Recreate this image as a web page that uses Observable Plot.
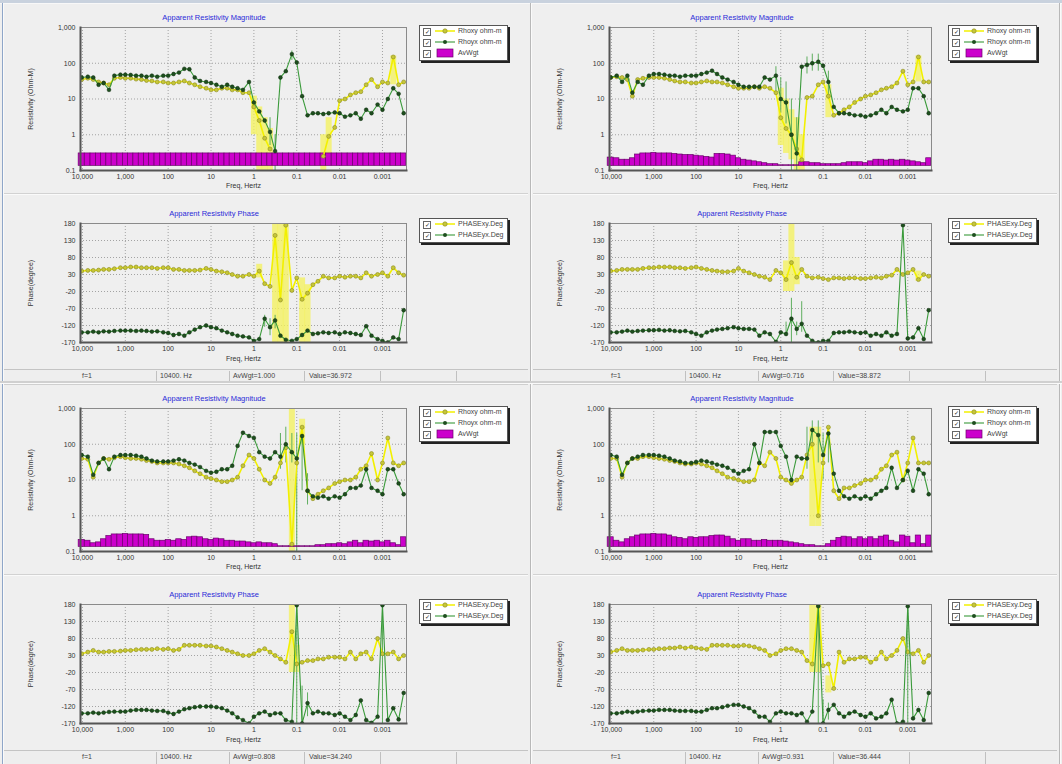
<!DOCTYPE html>
<html><head><meta charset="utf-8">
<script src="https://cdn.jsdelivr.net/npm/d3@7"></script>
<script src="https://cdn.jsdelivr.net/npm/@observablehq/plot@0.6"></script>
<style>
body{margin:0;background:#efefef;font-family:"Liberation Sans",Arial,sans-serif;}
#root{position:relative;width:1062px;height:764px;overflow:hidden;background:#efefef;}
.box{position:absolute;}
.title{position:absolute;color:#2a2ad8;font-size:7.5px;transform:translateX(-50%);white-space:nowrap;}
.legend{position:absolute;background:#fff;border:1px solid #555;box-shadow:2px 2px 0 #222;font-size:7px;color:#444;}
.lrow{position:relative;height:11px;white-space:nowrap;}
.cb{position:absolute;left:3px;top:2px;width:6px;height:6px;border:1px solid #666;background:#fff;font-size:6px;line-height:6px;text-align:center;color:#222;}
.lsym{position:absolute;left:14px;top:0px;}
.ltxt{position:absolute;left:38px;top:1px;}
.status{position:absolute;height:14px;background:#eeeeee;border-top:1px solid #c4c4c4;border-bottom:1px solid #cfcfcf;font-size:7px;color:#444;}
.scell{position:absolute;top:2px;white-space:nowrap;}
.ssep{position:absolute;top:1px;width:1px;height:12px;background:#c0c0c0;}
.hsep{position:absolute;height:1px;background:#d2d2d2;border-bottom:1px solid #fafafa;}
.vsep{position:absolute;width:1px;background:#b8b8b8;border-right:1px solid #fafafa;}
</style>
</head><body><div id="root"></div>
<script>
// ---------- data ----------
const freqs = [10400,7500,5600,4200,3200,2400,1800,1300,1000,750,560,420,320,240,180,130,100,75,56,42,32,24,18,13,10,7.5,5.6,4.2,3.2,2.4,1.8,1.3,1,0.75,0.56,0.42,0.32,0.24,0.18,0.13,0.1,0.075,0.056,0.042,0.032,0.024,0.018,0.013,0.01,0.0075,0.0056,0.0042,0.0032,0.0024,0.0018,0.0013,0.001,0.00075,0.00056,0.00042,0.00032];
const xTicks = [10000,1000,100,10,1,0.1,0.01,0.001];
const xTickLabels = ["10,000","1,000","100","10","1","0.1","0.01","0.001"];
const magTicks = [1000,100,10,1,0.1];
const magTickLabels = ["1,000","100","10","1","0.1"];
const phTicks = [180,130,80,30,-20,-70,-120,-170];
const phTickLabels = ["180","130","80","30","-20","-70","-120","-170"];

// panel A (top-left)
const rhoxyA = [35,38,35,30,28,25,38,40, 38,38,36,35,33,32,30,30, 28,28,30,32,28,25,22,20, 18,18,20,20,18,18,15,15, 6,2.5,0.8,0.4,null,null,null,null, null,null,null,null,null,0.25,0.9,1.6, 9,10,13,15,16,25,35,22, 30,28,150,25,30];
const rhoyxA = [40,42,40,25,28,18,45,48, 48,47,45,45,42,45,42,45, 45,50,55,70,68,40,32,30, 28,25,22,25,22,20,18,30, 8,4.5,2.5,1.2,0.35,40,60,180, 105,12,3.5,4,4,3.8,4,4.2, 4,3.2,3.5,4,2.8,5,4,7, 5,10,20,14,4];
const avwgtA = [0.3,0.3,0.3,0.3,0.3,0.3,0.3,0.3, 0.3,0.3,0.3,0.3,0.3,0.3,0.3,0.3, 0.3,0.3,0.3,0.3,0.3,0.3,0.3,0.3, 0.3,0.3,0.3,0.3,0.3,0.3,0.3,0.3, 0.3,0.3,0.3,0.3,0.3,0.3,0.3,0.3, 0.3,0.3,0.3,0.3,0.3,0.3,0.3,0.3, 0.3,0.3,0.3,0.3,0.3,0.3,0.3,0.3, 0.3,0.3,0.3,0.3,0.3];
const phxyA = [40,42,42,43,45,45,47,50, 50,52,52,50,50,50,48,50, 50,45,45,42,42,42,43,48, 45,40,38,35,30,25,25,30, 25,40,3,-5,145,-45,175,-17, 20,-43,-25,0,10,25,20,20, 25,22,25,25,20,35,25,30, 35,25,50,35,28];
const phyxA = [-140,-140,-138,-140,-137,-138,-136,-135, -135,-135,-136,-135,-136,-138,-137,-140, -142,-148,-145,-150,-140,-132,-125,-120, -125,-128,-135,-140,-145,-150,-152,-155, -165,-160,-100,-125,-105,-150,-162,-165, -160,-148,-135,-145,-143,-140,-142,-140, -145,-140,-142,-145,-148,-122,-150,-160, -165,-170,-155,-160,-75];

// panel B (top-right)
const rhoxyB = [40,42,40,35,12,35,38,40, 40,40,38,35,32,30,30,28, 28,30,32,30,30,28,25,22, 20,20,20,22,20,22,20,15, 3,1.5,1,0.4,0.2,11,12,25, 30,12,3.5,4,5,6,8,10, 12,13,15,18,20,22,28,60, 25,30,150,30,30];
const rhoyxB = [40,45,30,45,15,30,25,45, 50,50,48,45,45,42,45,45, 45,50,55,62,50,40,35,30, 25,22,22,22,22,40,35,45, 10,8,1,0.3,80,90,100,110, 85,30,6,4,4,3.8,3.5,3.5, 3.2,3.5,4,5,4,6,5,4.5, 5,20,20,12,4];
const avwgtB = [0.23,0.22,0.2,0.2,0.22,0.28,0.3,0.3, 0.31,0.3,0.3,0.3,0.29,0.28,0.27,0.27, 0.26,0.25,0.24,0.23,0.29,0.29,0.28,0.26, 0.22,0.2,0.19,0.18,0.17,0.16,0.15,0.15, 0.14,0.14,0.14,0.14,0.17,0.17,0.16,0.16, 0.15,0.15,0.15,0.15,0.16,0.17,0.17,0.17, 0.16,0.18,0.2,0.2,0.19,0.2,0.19,0.2, 0.19,0.18,0.17,0.16,0.22];
const phxyB = [40,42,45,45,45,45,48,50, 50,52,52,52,50,50,48,50, 52,48,45,42,40,38,38,40, 48,40,35,30,25,22,15,42, 35,15,65,22,45,25,20,22, 18,15,20,20,18,20,20,18, 18,20,22,20,25,28,45,30, 35,45,15,30,25];
const phyxB = [-140,-140,-138,-135,-138,-136,-135,-134, -134,-133,-135,-134,-136,-137,-136,-140, -145,-150,-140,-135,-132,-130,-128,-125, -128,-130,-130,-132,-150,-140,-145,-168, -140,-145,-100,-130,-115,-150,-165,-170, -165,-165,-142,-140,-140,-138,-140,-142, -140,-150,-145,-150,-140,-150,-145,175, -158,-155,-128,-160,-75];

// panel C (bottom-left)
const rhoxyC = [40,38,12,30,40,38,42,45, 42,40,40,38,35,33,30,30, 30,30,28,25,22,18,15,12, 11,10,9,9,10,12,25,50, 40,20,10,8,12,30,80,0.16, 30,300,5,3,4,5,6,8, 9,10,10,12,20,25,55,10, 30,150,30,25,30];
const rhoyxC = [50,45,14,30,40,20,45,50, 50,50,48,45,40,35,33,33, 33,35,38,35,30,27,23,18, 16,17,20,20,25,90,210,170, 150,60,45,40,60,45,100,60, 40,170,5,3.5,3.2,3.5,3,3.5, 3.2,4,6,6,7,20,6,5, 4,20,20,8,4];
const avwgtC = [0.21,0.2,0.17,0.18,0.22,0.27,0.3,0.3, 0.31,0.3,0.3,0.3,0.29,0.22,0.2,0.2, 0.21,0.2,0.22,0.21,0.25,0.26,0.25,0.22, 0.21,0.23,0.22,0.2,0.2,0.19,0.19,0.18, 0.17,0.18,0.17,0.17,0.16,0.14,0.14,0.14, 0.14,0.14,0.14,0.14,0.15,0.15,0.16,0.16, 0.17,0.16,0.18,0.2,0.17,0.2,0.19,0.2, 0.18,0.2,0.17,0.15,0.25];
const phxyC = [35,40,45,40,40,42,42,43, 45,45,47,48,48,48,50,48, 50,45,48,60,60,60,60,58, 58,55,50,45,40,35,30,30, 35,45,50,40,30,20,10,100, 5,10,15,15,20,20,25,25, 25,20,40,20,35,40,20,80, 35,35,40,20,30];
const phyxC = [-140,-140,-138,-140,-138,-136,-135,-135, -135,-132,-130,-130,-130,-132,-133,-133, -138,-142,-135,-128,-125,-122,-120,-120, -120,-122,-125,-132,-140,-152,-160,-170, -150,-140,-135,-145,-140,-140,-160,-165, 178,-170,-110,-140,-135,-140,-140,-145, -140,-150,-160,-145,-102,-160,-168,-150, 178,-160,-125,-158,-80];

// panel D (bottom-right)
const rhoxyD = [40,40,12,30,40,40,45,45, 42,40,38,35,33,30,28,28, 30,28,25,22,18,15,12,11, 10,9,9,10,30,25,60,40, 12,10,8,10,12,50,100,1, 30,300,5,3,6,6,7,8, 10,10,12,20,25,50,60,10, 30,150,30,30,30];
const rhoyxD = [50,45,14,30,40,45,50,50, 50,48,45,40,35,33,30,30, 32,35,33,30,27,25,22,18, 15,18,20,100,30,220,220,220, 90,45,10,45,40,40,250,180, 50,200,15,5,3.5,3,3.5,3, 3.5,3,4,5,6,22,6,10, 18,5,20,15,4];
const avwgtD = [0.25,0.2,0.18,0.22,0.25,0.28,0.3,0.3, 0.31,0.3,0.3,0.28,0.25,0.24,0.22,0.25, 0.24,0.25,0.25,0.27,0.28,0.28,0.26,0.22, 0.2,0.22,0.22,0.2,0.2,0.21,0.2,0.2, 0.2,0.19,0.18,0.17,0.16,0.15,0.15,0.14, 0.14,0.16,0.2,0.24,0.26,0.25,0.22,0.25, 0.22,0.25,0.22,0.26,0.28,0.2,0.18,0.28, 0.26,0.17,0.28,0.16,0.28];
const phxyD = [40,45,50,45,45,45,46,48, 48,50,50,52,52,55,52,55, 52,50,48,60,60,60,60,58, 58,60,58,55,50,45,30,35, 45,50,50,45,40,15,5,180, 0,5,-67,40,10,20,20,25, 25,10,20,40,20,30,45,80, 40,35,45,10,30];
const phyxD = [-140,-140,-138,-135,-137,-135,-133,-132, -132,-130,-130,-130,-132,-133,-133,-133, -135,-135,-130,-125,-125,-122,-118,-115, -115,-120,-125,-135,-150,-150,-165,-140, -135,-140,-140,-145,-140,-165,-135,175, -170,-130,-115,-140,-150,-140,-135,-145, -150,-140,-155,-150,-140,-100,-170,-165, 175,-155,-130,-160,-80];

// error bars: [frequency index, low, high]
const errMagXyA = [[32,1,12],[33,0.1,6],[34,0.1,3],[35,0.1,1.5],[45,0.1,1],[46,0.2,3],[58,25,160]];
const errMagYxA = [[35,0.5,3],[36,0.1,1],[39,120,220]];
const errPhXyA = [[33,20,60],[36,-170,180],[37,-170,180],[38,-170,180],[41,-170,20],[42,-170,0]];
const errPhYxA = [[34,-125,-90],[35,-150,-100],[36,-130,-90]];
const errMagXyB = [[32,0.5,20],[33,0.3,10],[34,0.2,5],[35,0.1,3],[36,0.1,1],[41,3,25],[58,30,160]];
const errMagYxB = [[31,15,80],[32,4,40],[33,2,30],[34,0.1,10],[35,0.1,3],[37,50,150],[38,60,180],[39,60,180],[41,10,60]];
const errPhXyB = [[33,-20,70],[34,-20,180],[35,0,80],[58,10,40]];
const errPhYxB = [[33,-150,-110],[34,-170,-40],[35,-150,-110],[36,-140,-50]];
const errMagXyC = [[39,0.1,1000],[41,100,500]];
const errMagYxC = [[37,20,200],[38,30,300],[39,30,200],[40,0.1,200],[41,5,300],[42,2,15]];
const errPhXyC = [[39,-20,180],[40,-20,60]];
const errPhYxC = [[40,-170,180],[41,-170,-60],[42,-150,-80],[56,-170,180]];
const errMagXyD = [[38,0.5,300],[39,0.5,300]];
const errMagYxD = [[37,20,300],[38,80,450],[39,30,450],[40,10,200],[41,30,300]];
const errPhXyD = [[38,-20,180],[39,-20,180],[41,-80,-30]];
const errPhYxD = [[39,-170,180],[40,-170,-100],[41,-160,-110],[56,-170,180]];

const magTitle = "Apparent Resistivity Magnitude";
const phTitle = "Apparent Resistivity Phase";
const magLegend = ["Rhoxy ohm-m","Rhoyx ohm-m","AvWgt"];
const phLegend = ["PHASExy.Deg","PHASEyx.Deg"];
const statusF = ["f=1","f=1","f=1","f=1"];
const statusHz = ["10400. Hz","10400. Hz","10400. Hz","10400. Hz"];
const statusW = ["AvWgt=1.000","AvWgt=0.716","AvWgt=0.808","AvWgt=0.931"];
const statusV = ["Value=36.972","Value=38.872","Value=34.240","Value=36.444"];

// ---------- drawing ----------
const root = document.getElementById("root");
const C = {yLine:"#f2f000", yDot:"#c6c63a", yDotS:"#8a8a1c", yErr:"#f4f25a", gLine:"#3a9a3a", gDot:"#1e4e1e", gDotS:"#0d2b0d", gErr:"#5fae5f", bar:"#cc00cc", barS:"#6a006a"};
const barBase = 0.135;
const xDomain = [11100, 0.000275];
const xLab = new Map(xTicks.map((d,i)=>[d,xTickLabels[i]]));
const mLab = new Map(magTicks.map((d,i)=>[d,magTickLabels[i]]));
const pLab = new Map(phTicks.map((d,i)=>[d,phTickLabels[i]]));
function edge(i){
  if (i===0) return freqs[0]*Math.sqrt(freqs[0]/freqs[1]);
  if (i===freqs.length) { const n=freqs.length; return freqs[n-1]/Math.sqrt(freqs[n-2]/freqs[n-1]); }
  return Math.sqrt(freqs[i-1]*freqs[i]);
}
const style = {background:"transparent", fontFamily:"'Liberation Sans',Arial,sans-serif", fontSize:"7px", color:"#333", overflow:"visible"};
const grid = {stroke:"#9a9a9a", strokeOpacity:0.9, strokeDasharray:"1,2"};
const errRows = e => e.map(([i,lo,hi])=>({f:freqs[i], lo, hi}));

function errMarks(ex, ey){
  return [
    Plot.ruleX(errRows(ex), {x:"f", y1:"lo", y2:"hi", stroke:C.yErr, strokeWidth:6, strokeOpacity:0.75, clip:true}),
    Plot.ruleX(errRows(ey), {x:"f", y1:"lo", y2:"hi", stroke:C.gErr, strokeWidth:1, clip:true})
  ];
}
function seriesMarks(rows){
  return [
    Plot.line(rows, {x:"f", y:"a", stroke:C.yLine, strokeWidth:1.6, clip:true}),
    Plot.dot(rows, {x:"f", y:"a", r:2.0, fill:C.yDot, stroke:C.yDotS, strokeWidth:0.6, clip:true}),
    Plot.line(rows, {x:"f", y:"b", stroke:C.gLine, strokeWidth:1.1, clip:true}),
    Plot.dot(rows, {x:"f", y:"b", r:1.9, fill:C.gDot, stroke:C.gDotS, strokeWidth:0.5, clip:true})
  ];
}
function frameMarks(){
  return [Plot.frame({stroke:"#8a8a8a", strokeWidth:1}),
          Plot.frame({anchor:"left", stroke:"#555", strokeWidth:2}),
          Plot.frame({anchor:"bottom", stroke:"#555", strokeWidth:2})];
}
function magPlot(a,b,w,ex,ey,mr){
  const rows = freqs.map((f,i)=>({f, a:a[i], b:b[i], w:w[i], f1:edge(i), f2:edge(i+1)}));
  return Plot.plot({
    width:530, height:193, marginLeft:80, marginRight:mr, marginTop:27, marginBottom:23, style,
    x:{type:"log", domain:xDomain}, y:{type:"log", domain:[0.1,1000]},
    marks:[
      Plot.gridX(xTicks, grid), Plot.gridY(magTicks, grid),
      ...errMarks(ex, ey),
      Plot.rect(rows, {x1:"f1", x2:"f2", y1:()=>barBase, y2:"w", fill:C.bar, stroke:C.barS, strokeWidth:0.7}),
      ...seriesMarks(rows), ...frameMarks(),
      Plot.axisX(xTicks, {tickFormat:d=>xLab.get(d), tickSize:0, tickPadding:4, label:"Freq, Hertz", labelAnchor:"center", labelOffset:17, labelArrow:"none"}),
      Plot.axisY(magTicks, {tickFormat:d=>mLab.get(d), tickSize:0, tickPadding:5, label:"Resistivity (Ohm-M)", labelAnchor:"center", labelOffset:52, labelArrow:"none"})
    ]
  });
}
function phPlot(a,b,ex,ey,mr){
  const rows = freqs.map((f,i)=>({f, a:a[i], b:b[i]}));
  return Plot.plot({
    width:530, height:177, marginLeft:80, marginRight:mr, marginTop:30, marginBottom:28, style,
    x:{type:"log", domain:xDomain}, y:{domain:[-170,180]},
    marks:[
      Plot.gridX(xTicks, grid), Plot.gridY(phTicks, grid),
      ...errMarks(ex, ey), ...seriesMarks(rows), ...frameMarks(),
      Plot.axisX(xTicks, {tickFormat:d=>xLab.get(d), tickSize:0, tickPadding:4, label:"Freq, Hertz", labelAnchor:"center", labelOffset:18, labelArrow:"none"}),
      Plot.axisY(phTicks, {tickFormat:d=>pLab.get(d), tickSize:0, tickPadding:5, label:"Phase(degree)", labelAnchor:"center", labelOffset:52, labelArrow:"none"})
    ]
  });
}
function place(el, x, y){ const d=document.createElement("div"); d.className="box"; d.style.left=x+"px"; d.style.top=y+"px"; d.appendChild(el); root.appendChild(d); return d; }
function div(cls, css, html){ const d=document.createElement("div"); d.className=cls; Object.assign(d.style, css); if(html!=null) d.innerHTML=html; root.appendChild(d); return d; }
function sym(kind){
  if (kind==="y") return `<svg width="22" height="10"><line x1="1" y1="5" x2="21" y2="5" stroke="${C.yLine}" stroke-width="1.5"/><circle cx="11" cy="5" r="2.2" fill="${C.yDot}" stroke="${C.yDotS}" stroke-width="0.6"/></svg>`;
  if (kind==="g") return `<svg width="22" height="10"><line x1="1" y1="5" x2="21" y2="5" stroke="${C.gLine}" stroke-width="1.1"/><circle cx="11" cy="5" r="2" fill="${C.gDot}"/></svg>`;
  return `<svg width="22" height="10"><rect x="3" y="1" width="16" height="8" fill="${C.bar}" stroke="${C.barS}" stroke-width="0.7"/></svg>`;
}
function legend(x,y,labels,kinds){
  const L = div("legend", {left:x+"px", top:y+"px", width:"87px", height:(labels.length*11+1)+"px"});
  labels.forEach((t,i)=>{
    const r=document.createElement("div"); r.className="lrow";
    r.innerHTML = `<div class="cb">✓</div><div class="lsym">${sym(kinds[i])}</div><div class="ltxt">${t}</div>`;
    L.appendChild(r);
  });
}
const quads = [
  {x0:0, y0:0, mr:124, tx:214, a:[rhoxyA,rhoyxA,avwgtA,phxyA,phyxA], e:[errMagXyA,errMagYxA,errPhXyA,errPhYxA]},
  {x0:529, y0:0, mr:128, tx:213, a:[rhoxyB,rhoyxB,avwgtB,phxyB,phyxB], e:[errMagXyB,errMagYxB,errPhXyB,errPhYxB]},
  {x0:0, y0:381, mr:124, tx:214, a:[rhoxyC,rhoyxC,avwgtC,phxyC,phyxC], e:[errMagXyC,errMagYxC,errPhXyC,errPhYxC]},
  {x0:529, y0:381, mr:128, tx:213, a:[rhoxyD,rhoyxD,avwgtD,phxyD,phyxD], e:[errMagXyD,errMagYxD,errPhXyD,errPhYxD]}
];
quads.forEach((q,k)=>{
  const [xy,yx,w,pxy,pyx] = q.a;
  const [emx,emy,epx,epy] = q.e;
  place(magPlot(xy,yx,w,emx,emy,q.mr), q.x0, q.y0);
  place(phPlot(pxy,pyx,epx,epy,q.mr), q.x0, q.y0+193);
  div("title", {left:(q.x0+q.tx)+"px", top:(q.y0+13)+"px"}, magTitle);
  div("title", {left:(q.x0+q.tx)+"px", top:(q.y0+209)+"px"}, phTitle);
  legend(q.x0+419, q.y0+25, magLegend, ["y","g","m"]);
  legend(q.x0+419, q.y0+218, phLegend, ["y","g"]);
  div("hsep", {left:(q.x0+4)+"px", top:(q.y0+193)+"px", width:"524px"});
  const S = div("status", {left:(q.x0+4)+"px", top:(q.y0+369)+"px", width:"524px"});
  [[78,statusF[k]],[156,statusHz[k]],[229,statusW[k]],[305,statusV[k]]].forEach(([x,t])=>{
    const c=document.createElement("div"); c.className="scell"; c.style.left=x+"px"; c.textContent=t; S.appendChild(c);
  });
  [152,225,300,376,452].forEach(x=>{ const s=document.createElement("div"); s.className="ssep"; s.style.left=x+"px"; S.appendChild(s); });
});
// window chrome
div("hsep", {left:"0px", top:"0px", width:"1062px", height:"3px", background:"#c9d2de", borderBottom:"1px solid #f8f8f8"});
div("vsep", {left:"2px", top:"3px", height:"761px", background:"#8fa6c8"});
div("vsep", {left:"530px", top:"3px", height:"761px"});
div("vsep", {left:"1059px", top:"3px", height:"761px"});
div("hsep", {left:"0px", top:"381px", width:"1062px", height:"2px", background:"#d0d0d0"});
</script>
</body></html>
